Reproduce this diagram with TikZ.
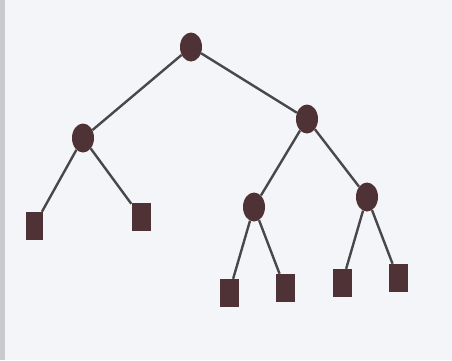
\documentclass[tikz,border=0pt]{standalone}
\usetikzlibrary{shapes.geometric}
\definecolor{nodefill}{HTML}{4E3236}
\definecolor{edgecol}{HTML}{48484A}
\definecolor{paper}{HTML}{F4F5F8}
\definecolor{strip}{HTML}{C9CACC}
\begin{document}
\begin{tikzpicture}[x=1pt,y=-1pt,
  inner/.style={ellipse,fill=nodefill,draw=none,minimum width=22pt,minimum height=29pt,inner sep=0pt},
  leaf/.style={rectangle,fill=nodefill,draw=none,minimum width=19pt,minimum height=28pt,inner sep=0pt},
  edge/.style={draw=edgecol,line width=2.4pt}]
\fill[paper] (0,0) rectangle (452,360);
\fill[strip] (0,0) rectangle (5,360);
\useasboundingbox (0,0) rectangle (452,360);
\node[inner] (r) at (191,47) {};
\node[inner] (a) at (83,138) {};
\node[inner] (b) at (307,119) {};
\node[inner] (c) at (254,207) {};
\node[inner] (d) at (367,197) {};
\node[leaf,minimum width=17pt] (l1) at (34,226) {};
\node[leaf] (l2) at (141,217) {};
\node[leaf] (l3) at (229,293) {};
\node[leaf] (l4) at (285,288) {};
\node[leaf] (l5) at (342,283) {};
\node[leaf] (l6) at (398,278) {};
\draw[edge] (r) -- (a);
\draw[edge] (r) -- (b);
\draw[edge] (a) -- (l1);
\draw[edge] (a) -- (l2);
\draw[edge] (b) -- (c);
\draw[edge] (b) -- (d);
\draw[edge] (c) -- (l3);
\draw[edge] (c) -- (l4);
\draw[edge] (d) -- (l5);
\draw[edge] (d) -- (l6);
\end{tikzpicture}
\end{document}
